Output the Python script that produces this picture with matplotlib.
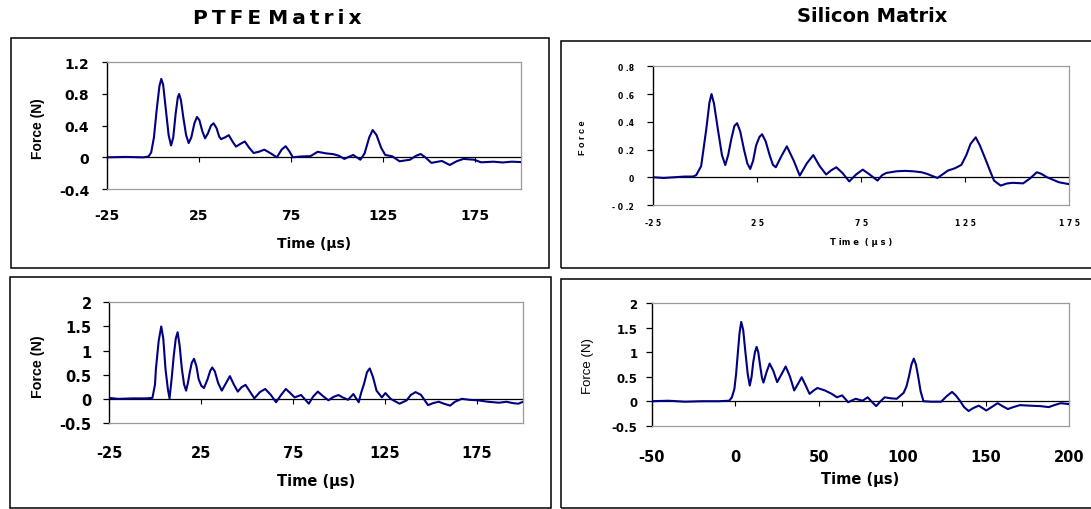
import matplotlib
matplotlib.use('Agg')
import matplotlib.pyplot as plt
from matplotlib.patches import Rectangle

W, H = 1091, 510
NAVY = '#000080'
HFONT = ['DejaVu Sans']
VFONT = ['Liberation Sans', 'DejaVu Sans']

# ---------------- data ----------------
titles = ['PTFE Matrix', 'Silicon Matrix']
xlabel_text = 'Time (µs)'
ylabel_text = 'Force (N)'

# PTFE matrix, top
ptfe_a_t = [-25, -15, -5, -2.5, -1, 0.5, 2, 3.5, 4.5, 5.5, 7, 8.5, 9.8, 11, 12.3, 13.5, 14.2, 15.2,
            16.5, 18, 19.4, 20.8, 22.5, 23.9, 25.2, 26.8, 28.3, 29.8, 31.5, 32.9, 34.5, 36, 37, 39,
            41.2, 43.2, 45.1, 47.5, 49.9, 52.3, 54.7, 57.5, 60.5, 64, 67.3, 70, 72.1, 74, 76, 80,
            85.6, 89.5, 94, 98, 101, 104, 108.8, 112.7, 115, 117.5, 119.4, 121.5, 124, 126.2, 130,
            134, 139.7, 143, 145.5, 148, 151.3, 157, 161.3, 165, 168.7, 174.5, 178.3, 185, 190, 195, 200]
ptfe_a_f = [0.0, 0.005, 0.0, 0.01, 0.06, 0.25, 0.6, 0.9, 0.99, 0.92, 0.6, 0.28, 0.15, 0.25, 0.55, 0.76, 0.80, 0.72,
            0.5, 0.28, 0.18, 0.25, 0.43, 0.51, 0.47, 0.33, 0.24, 0.30, 0.40, 0.43, 0.37, 0.26, 0.23, 0.25,
            0.28, 0.20, 0.135, 0.17, 0.20, 0.12, 0.055, 0.07, 0.097, 0.05, 0.0, 0.10, 0.14, 0.08, 0.0, 0.01,
            0.015, 0.07, 0.05, 0.04, 0.02, -0.02, 0.03, -0.03, 0.05, 0.25, 0.345, 0.28, 0.12, 0.03, 0.013,
            -0.05, -0.03, 0.02, 0.042, 0.0, -0.07, -0.046, -0.097, -0.05, -0.02, -0.03, -0.063, -0.055, -0.065, -0.055, -0.06]

# Silicon matrix, top
sil_a_t = [-25, -20, -15, -10, -6, -4.4, -2, 0.5, 2, 3, 4.2, 6, 8, 9.6, 11, 12.5, 14, 15.3, 16.8, 18.6,
           20.2, 21.6, 23, 24.4, 26, 27.3, 29, 31, 32.5, 33.9, 36.5, 39.2, 42.5, 45.4, 48.8, 51.9, 55,
           58.1, 60.5, 63, 66, 69.2, 72.5, 75.7, 79, 82.8, 85, 87, 91.9, 96, 100, 104, 106.7, 109, 111.6,
           114, 116.6, 120, 123.1, 125.5, 127.5, 130, 132, 134.7, 136.8, 138.8, 142, 145, 147.8, 152.8,
           156, 159.4, 161.5, 164.3, 170, 175]
sil_a_f = [0.0, -0.005, 0.0, 0.005, 0.005, 0.015, 0.08, 0.35, 0.54, 0.60, 0.53, 0.35, 0.16, 0.088, 0.16, 0.276, 0.37, 0.39, 0.33, 0.20,
           0.10, 0.06, 0.12, 0.228, 0.29, 0.31, 0.26, 0.156, 0.09, 0.072, 0.15, 0.223, 0.12, 0.012, 0.10, 0.16, 0.08,
           0.02, 0.05, 0.072, 0.03, -0.03, 0.02, 0.055, 0.02, -0.024, 0.015, 0.031, 0.043, 0.046, 0.043, 0.036, 0.024, 0.01, -0.005,
           0.02, 0.048, 0.065, 0.089, 0.16, 0.24, 0.288, 0.23, 0.13, 0.05, -0.024, -0.06, -0.045, -0.04, -0.044,
           -0.01, 0.036, 0.025, 0.0, -0.036, -0.05]

# PTFE matrix, bottom
ptfe_b_t = [-25, -20, -12, -5, -1.4, 0, 0.5, 2, 3.4, 4.5, 5.7, 7, 7.9, 9, 10.2, 11.3, 12.3, 13.4, 14.6, 15.8,
            16.9, 18, 18.9, 20, 21.2, 22.5, 23.7, 25.2, 26.6, 28.5, 30, 31.1, 32.5, 34.3, 36.3, 38.5, 40.7,
            42.8, 45, 47, 49.2, 51.6, 54, 57, 59.9, 63, 65.8, 68.5, 71.1, 73.5, 75.9, 79.4, 83.6, 86, 88.5,
            91.5, 94.3, 97, 99.7, 102, 104.9, 107.8, 110.7, 112, 113.6, 115.2, 116.7, 118.5, 120.4, 123.3,
            125.2, 128.1, 132.9, 136.8, 139, 141.6, 144.5, 148.4, 151, 154.2, 157, 160.4, 163, 166.7, 171,
            175.4, 181, 187, 191, 194.8, 197.5, 200]
ptfe_b_f = [0.02, 0.0, 0.01, 0.01, 0.02, 0.3, 0.62, 1.2, 1.50, 1.25, 0.62, 0.2, 0.01, 0.4, 0.895, 1.25, 1.38, 1.1, 0.62, 0.3,
            0.17, 0.35, 0.55, 0.75, 0.83, 0.68, 0.41, 0.27, 0.225, 0.40, 0.58, 0.65, 0.57, 0.33, 0.17, 0.32, 0.47,
            0.30, 0.15, 0.24, 0.29, 0.15, 0.01, 0.14, 0.205, 0.08, -0.07, 0.08, 0.205, 0.12, 0.03, 0.08, -0.1, 0.05, 0.15,
            0.05, -0.03, 0.04, 0.08, 0.03, -0.02, 0.10, -0.07, 0.12, 0.31, 0.55, 0.63, 0.45, 0.17, 0.03,
            0.12, 0.0, -0.1, -0.03, 0.08, 0.14, 0.085, -0.13, -0.09, -0.06, -0.1, -0.14, -0.06, 0.0, -0.02,
            -0.03, -0.06, -0.08, -0.06, -0.09, -0.1, -0.06]

# Silicon matrix, bottom
sil_b_t = [-50, -40, -30, -20, -10, -3.6, -2, -0.5, 0.5, 1.6, 2.6, 3.6, 4.8, 6.1, 7.5, 8.7, 9.8, 10.8, 11.8,
           12.8, 13.8, 14.9, 16, 16.9, 18.8, 20.6, 22.8, 25.1, 27.7, 30.2, 32.8, 35.3, 37.5, 39.8, 42.2,
           44.5, 47, 49.2, 53.7, 57.8, 60.9, 64, 67.6, 72.1, 76.2, 79.3, 82, 84.4, 87, 89.5, 93, 96.7,
           100.8, 102.5, 103.9, 105.5, 106.9, 108.2, 109.4, 111, 112.7, 117.2, 123.3, 126.5, 129.8, 132,
           134.5, 137, 139.7, 142.5, 145.8, 150.3, 153.5, 157.1, 160, 163.2, 166.5, 170.4, 176, 182.6,
           187.7, 191, 194.9, 200]
sil_b_f = [0.0, 0.01, -0.01, 0.0, 0.0, 0.01, 0.08, 0.25, 0.55, 1.0, 1.4, 1.62, 1.45, 1.0, 0.55, 0.32, 0.5, 0.8, 1.0,
           1.11, 1.0, 0.73, 0.48, 0.38, 0.6, 0.77, 0.62, 0.39, 0.55, 0.71, 0.50, 0.22, 0.35, 0.49, 0.32,
           0.15, 0.22, 0.27, 0.22, 0.15, 0.08, 0.12, -0.02, 0.05, 0.01, 0.08, -0.02, -0.1, 0.0, 0.08, 0.06, 0.05,
           0.17, 0.30, 0.49, 0.75, 0.87, 0.75, 0.53, 0.2, 0.0, -0.01, -0.01, 0.1, 0.19, 0.12,
           0.01, -0.12, -0.2, -0.14, -0.09, -0.19, -0.12, -0.04, -0.1, -0.16, -0.12, -0.08, -0.09, -0.1,
           -0.12, -0.08, -0.04, -0.06]

# ticks
ptfe_xticks = [-25, 25, 75, 125, 175]
ptfe_xticklabels = ['-25', '25', '75', '125', '175']
ptfe_a_yticks = [-0.4, 0, 0.4, 0.8, 1.2]
ptfe_a_yticklabels = ['-0.4', '0', '0.4', '0.8', '1.2']
sil_a_xticks = [-25, 25, 75, 125, 175]
sil_a_xticklabels = ['-2 5', '2 5', '7 5', '1 2 5', '1 7 5']
sil_a_yticks = [-0.2, 0, 0.2, 0.4, 0.6, 0.8]
sil_a_yticklabels = ['- 0 .2', '0', '0 .2', '0 .4', '0 .6', '0 .8']
big_yticks = [-0.5, 0, 0.5, 1, 1.5, 2]
big_yticklabels = ['-0.5', '0', '0.5', '1', '1.5', '2']
sil_b_xticks = [-50, 0, 50, 100, 150, 200]
sil_b_xticklabels = ['-50', '0', '50', '100', '150', '200']

# ---------------- figure ----------------
fig = plt.figure(figsize=(W / 100, H / 100), dpi=100)
fig.patch.set_facecolor('white')


def outer_box(x0, y0, x1, y1):
    fig.add_artist(Rectangle((x0 / W, 1 - y1 / H), (x1 - x0) / W, (y1 - y0) / H,
                             transform=fig.transFigure, fill=False, ec='black', lw=1.1))


def panel(px, t, f, xlim, ylim, xticks, xtl, yticks, ytl, xfs, yfs, xpad, ypad, ylen,
          xl_text, xl_fs, xl_y, yl_text, yl_fs, yl_x, yl_y, yl_weight='bold'):
    l, tp, r, b = px
    ax = fig.add_axes([l / W, 1 - b / H, (r - l) / W, (b - tp) / H])
    ax.plot(t, f, color=NAVY, lw=1.5, zorder=3, solid_joinstyle='round')
    ax.set_xlim(*xlim)
    ax.set_ylim(*ylim)
    ax.set_xticks(xticks)
    ax.set_xticklabels(xtl, fontsize=xfs, fontweight='bold', family=HFONT)
    ax.set_yticks(yticks)
    ax.set_yticklabels(ytl, fontsize=yfs, fontweight='bold', family=HFONT)
    ax.tick_params(axis='x', length=0, pad=xpad)
    ax.tick_params(axis='y', direction='out', length=ylen, width=0.9, pad=ypad, color='black')
    for s in ['top', 'right', 'bottom']:
        ax.spines[s].set_color('#9a9a9a')
        ax.spines[s].set_linewidth(0.9)
    ax.spines['left'].set_color('black')
    ax.spines['left'].set_linewidth(1.0)
    zf = (0 - ylim[0]) / (ylim[1] - ylim[0])
    sec = ax.secondary_xaxis(zf)
    sec.set_xticks(xticks)
    sec.tick_params(axis='x', labelbottom=False, labeltop=False, direction='out',
                    length=3.6, width=0.8, color='black')
    for s in sec.spines.values():
        s.set_color('black')
        s.set_linewidth(0.9)
    ax.set_xlabel(xl_text, fontsize=xl_fs, fontweight='bold', family=HFONT)
    ax.xaxis.label.set_va('center')
    ax.xaxis.set_label_coords(0.5, xl_y)
    ax.set_ylabel(yl_text, fontsize=yl_fs, fontweight=yl_weight, family=VFONT)
    ax.yaxis.label.set_va('center')
    ax.yaxis.label.set_ha('center')
    ax.yaxis.set_label_coords(yl_x, yl_y)
    return ax


# outer frames
outer_box(11, 39, 549, 269)
outer_box(561, 42, 1096, 269)
outer_box(9.5, 277.5, 551.5, 508.5)
outer_box(561, 279.5, 1096, 508.5)

# top-left: PTFE
panel((107, 63.3, 521, 190), ptfe_a_t, ptfe_a_f, (-25, 200), (-0.4, 1.2),
      ptfe_xticks, ptfe_xticklabels, ptfe_a_yticks, ptfe_a_yticklabels,
      10, 10, 14, 9.1, 3.6,
      xlabel_text, 10, -0.426, ylabel_text, 10, -0.1667, 0.481)

# top-right: Silicon
panel((653.3, 67.3, 1069.3, 206), sil_a_t, sil_a_f, (-25, 175), (-0.2, 0.8),
      sil_a_xticks, sil_a_xticklabels, sil_a_yticks, sil_a_yticklabels,
      5.5, 5.5, 9.4, 9.6, 4.3,
      'T im e  ( µ s )', 6, -0.26, 'F o r c e', 6.5, -0.169, 0.49)

# bottom-left: PTFE
panel((109, 303.3, 523, 424), ptfe_b_t, ptfe_b_f, (-25, 200), (-0.5, 2),
      ptfe_xticks, ptfe_xticklabels, big_yticks, big_yticklabels,
      10.5, 10.5, 16, 8.4, 4.1,
      xlabel_text, 10.5, -0.478, ylabel_text, 10.3, -0.1715, 0.475)

# bottom-right: Silicon
panel((651.7, 304.3, 1069.3, 426.7), sil_b_t, sil_b_f, (-50, 200), (-0.5, 2),
      sil_b_xticks, sil_b_xticklabels, big_yticks, big_yticklabels,
      10.5, 8.5, 16.7, 5.8, 4.3,
      xlabel_text, 10.5, -0.435, ylabel_text, 9.5, -0.1537, 0.496, yl_weight='normal')


# column titles (letter-spaced)
def spaced(s, sep):
    return ' '.join(sep.join(w) for w in s.split(' '))


fig.text(277 / W, 1 - 19 / H, spaced(titles[0], '\u2009'), ha='center', va='center',
         fontsize=14.5, fontweight='bold', family=HFONT)
fig.text(872 / W, 1 - 17 / H, titles[1], ha='center', va='center',
         fontsize=14, fontweight='bold', family=HFONT)

fig.savefig('out.png', dpi=100, facecolor='white')
